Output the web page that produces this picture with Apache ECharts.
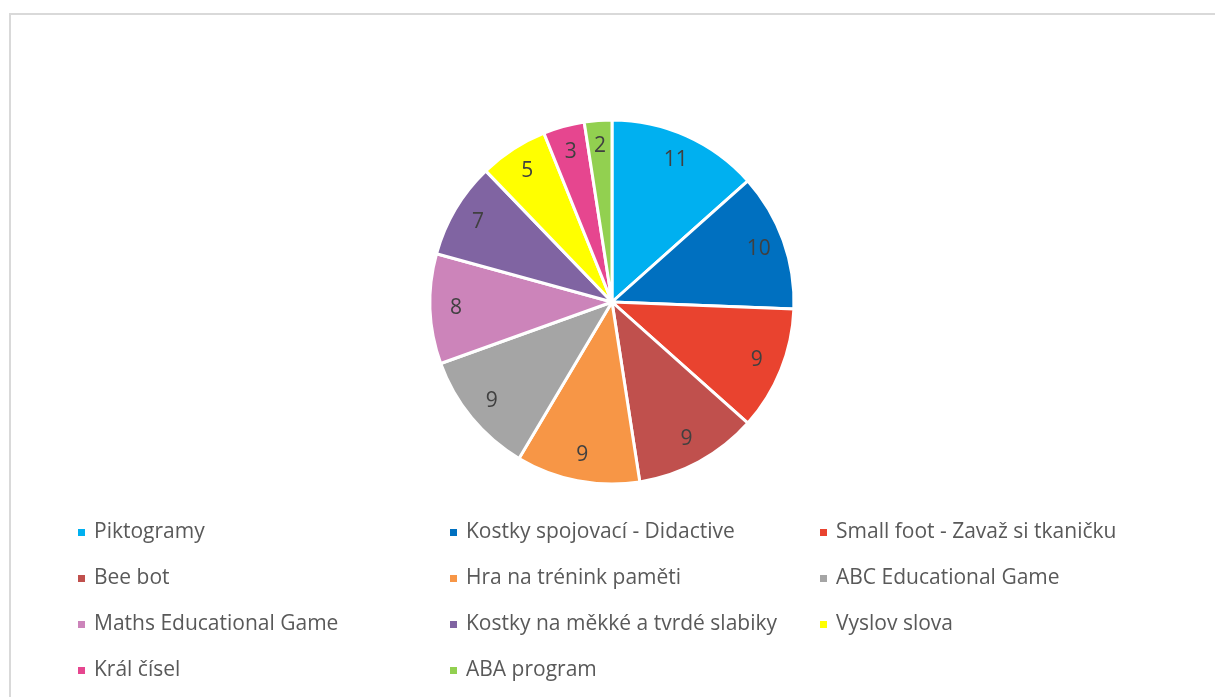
<!DOCTYPE html>
<html>
<head>
<meta charset="utf-8">
<script src="https://cdn.jsdelivr.net/npm/echarts@6/dist/echarts.min.js"></script>
<style>
html,body{margin:0;padding:0;background:#fff;}
#chart{width:1215px;height:697px;}
</style>
</head>
<body>
<div id="chart"></div>
<script>
var categories = ["Piktogramy","Kostky spojovací - Didactive","Small foot - Zavaž si tkaničku","Bee bot","Hra na trénink paměti","ABC Educational Game","Maths Educational Game","Kostky na měkké a tvrdé slabiky","Vyslov slova","Král čísel","ABA program"];
var values = [11,10,9,9,9,9,8,7,5,3,2];
var colors = ["#00B0F0","#0070C0","#E9432F","#C0504D","#F79646","#A5A5A5","#CC84BA","#8064A2","#FFFF00","#E6468F","#92D050"];

var FONT = "Open Sans";
var pieData = categories.map(function(c,i){return {name:c,value:values[i],itemStyle:{color:colors[i]}};});
var labelData = categories.map(function(c,i){return {name:c,value:values[i],itemStyle:{color:'rgba(0,0,0,0)'}};});

var columns = [[0,3,6,9],[1,4,7,10],[2,5,8]];
var lefts = [76, 448, 818];
var legends = columns.map(function(col,k){
  return {
    orient:'vertical',
    left: lefts[k], top: 522,
    padding:0,
    itemWidth:9, itemHeight:9, itemGap:25,
    icon:'rect',
    selectedMode:false,
    textStyle:{fontFamily:FONT,fontSize:21,lineHeight:21,color:'#595959',padding:[0,0,0,3]},
    data: col.map(function(i){return {name:categories[i],itemStyle:{color:colors[i]}};})
  };
});

var chart = echarts.init(document.getElementById('chart'));
chart.setOption({
  backgroundColor:'#fff',
  animation:false,
  graphic:[{type:'rect',shape:{x:10,y:14,width:1400,height:900},style:{fill:'none',stroke:'#d9d9d9',lineWidth:2},silent:true}],
  legend: legends,
  series:[
    {type:'pie',center:[612,302],radius:182,startAngle:90,clockwise:true,
     label:{show:false},labelLine:{show:false},
     itemStyle:{borderColor:'#fff',borderWidth:3},
     emphasis:{disabled:true},
     data:pieData},
    {type:'pie',center:[612,302],radius:[124,182],startAngle:90,clockwise:true,silent:true,
     label:{show:true,position:'inside',formatter:'{c}',fontFamily:FONT,fontSize:21,color:'#404040'},
     labelLine:{show:false},
     emphasis:{disabled:true},
     data:labelData}
  ]
});
</script>
</body>
</html>
